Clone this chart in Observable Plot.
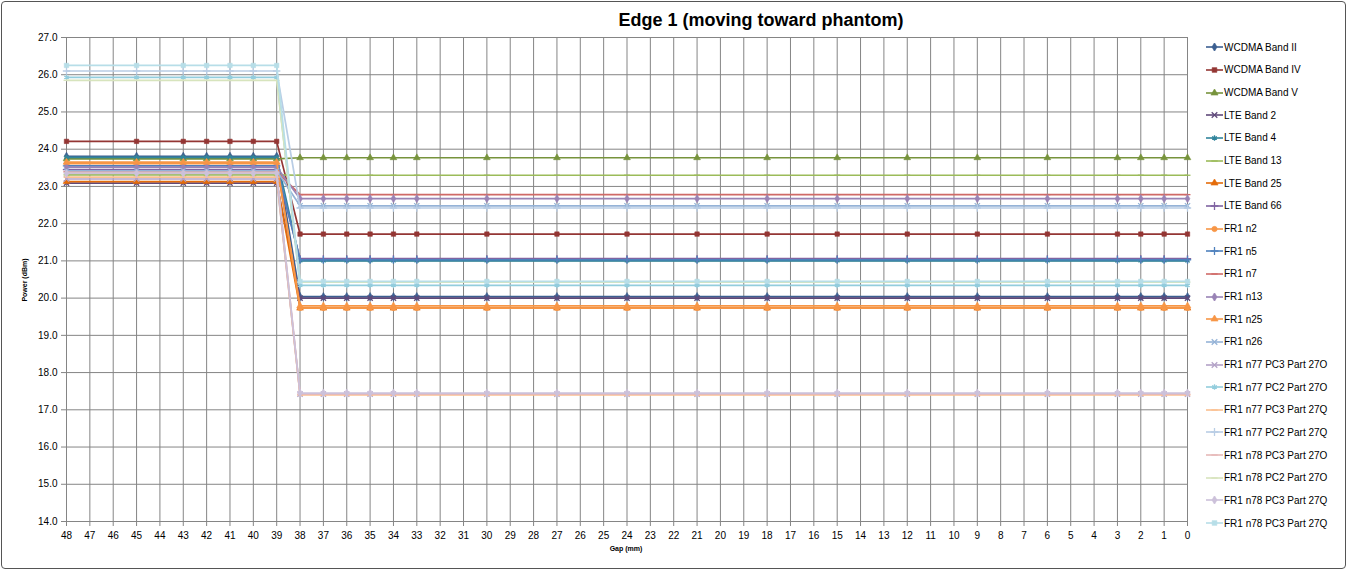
<!DOCTYPE html>
<html>
<head>
<meta charset="utf-8">
<script src="https://cdn.jsdelivr.net/npm/d3@7"></script>
<script src="https://cdn.jsdelivr.net/npm/@observablehq/plot@0.6"></script>
<style>
  html, body { margin: 0; padding: 0; background: #fff; }
  #frame { position: relative; width: 1348px; height: 572px; overflow: hidden; font-family: "Liberation Sans", Arial, sans-serif; }
  #border { position: absolute; left: 1px; top: 1px; width: 1343px; height: 566px; border: 1.5px solid #555; border-radius: 4px; pointer-events: none; }
  #title { position: absolute; left: 0; width: 1522px; top: 10px; text-align: center; font-size: 18px; font-weight: bold; color: #000; }
  #chart { position: absolute; left: 0; top: 0; }
  #legend { position: absolute; left: 1206px; top: 36px; font-size: 10px; color: #000; }
  .item { height: 22.67px; display: flex; align-items: center; white-space: nowrap; }
  .item svg { margin-right: 1px; }
  .ylab { position: absolute; left: 24px; top: 280px; transform: translate(-50%, -50%) rotate(-90deg); font-size: 7px; font-weight: bold; }
  .xlab { position: absolute; left: 626px; top: 545px; transform: translateX(-50%); font-size: 7px; font-weight: bold; }
</style>
</head>
<body>
<div id="frame">
  <div id="chart"></div>
  <div id="title">Edge 1 (moving toward phantom)</div>
  <div class="ylab">Power (dBm)</div>
  <div class="xlab">Gap (mm)</div>
  <div id="legend"></div>
  <div id="border"></div>
</div>
<script>
// ---- Data ----
const gapsFar = [48, 45, 43, 42, 41, 40, 39];
const gapsNear = [38, 37, 36, 35, 34, 33, 30, 27, 24, 21, 18, 15, 12, 9, 6, 3, 2, 1, 0];
const xTicks = d3.range(48, -1, -1);
const yTicks = d3.range(14, 28, 1);

const seriesNames = [
  "WCDMA Band II", "WCDMA Band IV", "WCDMA Band V", "LTE Band 2", "LTE Band 4",
  "LTE Band 13", "LTE Band 25", "LTE Band 66", "FR1 n2", "FR1 n5", "FR1 n7",
  "FR1 n13", "FR1 n25", "FR1 n26", "FR1 n77 PC3 Part 27O", "FR1 n77 PC2 Part 27O",
  "FR1 n77 PC3 Part 27Q", "FR1 n77 PC2 Part 27Q", "FR1 n78 PC3 Part 27O",
  "FR1 n78 PC2 Part 27O", "FR1 n78 PC3 Part 27Q", "FR1 n78 PC3 Part 27Q"
];
// power at gaps 48..39 (far) and 38..0 (near)
const powerFar = [
  23.81, 24.21, 23.74, 23.09, 23.78,
  23.31, 23.13, 23.45, 23.61, 23.55, 23.40,
  23.52, 23.65, 23.42, 23.20, 25.93,
  23.25, 26.10, 23.38,
  25.85, 23.35, 26.25
];
const powerNear = [
  20.04, 21.72, 23.77, 20.00, 21.00,
  23.30, 19.73, 21.06, 19.73, 21.03, 22.78,
  22.67, 19.79, 22.48, 17.42, 20.34,
  17.40, 22.42, 17.42,
  20.43, 17.45, 20.45
];
const seriesColors = [
  "#3C5F91", "#943634", "#77933C", "#5F497A", "#31859C",
  "#9BBB59", "#E46C0A", "#8064A2", "#F79646", "#4F81BD", "#D06A67",
  "#9983B5", "#F79646", "#95B3D7", "#B3A2C7", "#93CDDD",
  "#FAC090", "#B9CDE5", "#E6B9B8",
  "#D7E4BD", "#CCC1DA", "#B7DEE8"
];
const seriesMarkers = [
  "diamond", "square", "triangle", "times", "asterisk",
  "dash", "triangle", "plus", "circle", "plus", "dash",
  "diamond", "triangle", "times", "times", "asterisk",
  "dash", "plus", "dash",
  "dash", "diamond", "square"
];

// ---- Symbols ----
const dash = { draw(ctx, size) { const w = Math.sqrt(size) * 0.7; ctx.moveTo(-w, 0); ctx.lineTo(w, 0); } };
const symbolMap = {
  diamond: d3.symbolDiamond, square: d3.symbolSquare, triangle: d3.symbolTriangle,
  times: d3.symbolTimes, asterisk: d3.symbolAsterisk, plus: d3.symbolPlus,
  circle: d3.symbolCircle, dash: dash
};
const filled = new Set(["diamond", "square", "triangle", "circle"]);

const rows = [];
seriesNames.forEach((name, i) => {
  gapsFar.forEach(g => rows.push({ i, name, gap: g, power: powerFar[i] }));
  gapsNear.forEach(g => rows.push({ i, name, gap: g, power: powerNear[i] }));
});

const marks = [
  Plot.gridX(xTicks, { stroke: "#858585", strokeOpacity: 1, strokeWidth: 1 }),
  Plot.gridY(yTicks, { stroke: "#858585", strokeOpacity: 1, strokeWidth: 1 }),
  Plot.axisX(xTicks, { tickSize: 5, tickPadding: 5, stroke: "#858585", label: null, fontSize: 10 }),
  Plot.axisY(yTicks, { tickSize: 5, tickPadding: 4, stroke: "#858585", tickFormat: d => d.toFixed(1), label: null, fontSize: 10 }),
  Plot.ruleY([14], { stroke: "#858585" }),
  Plot.ruleX([48], { stroke: "#858585" })
];
seriesNames.forEach((name, i) => {
  const d = rows.filter(r => r.i === i);
  marks.push(Plot.line(d, { x: "gap", y: "power", stroke: seriesColors[i], strokeWidth: 1.7 }));
  const m = seriesMarkers[i];
  marks.push(Plot.dot(d, {
    x: "gap", y: "power",
    symbol: symbolMap[m],
    r: m === "dash" ? 2.4 : 2.5,
    fill: filled.has(m) ? seriesColors[i] : "none",
    stroke: seriesColors[i],
    strokeWidth: filled.has(m) ? 0.6 : 1.3
  }));
});

const chart = Plot.plot({
  width: 1348, height: 572,
  marginLeft: 66, marginRight: 161, marginTop: 37, marginBottom: 51,
  x: { type: "linear", domain: [48, 0] },
  y: { type: "linear", domain: [14, 27] },
  style: { fontFamily: "'Liberation Sans', Arial, sans-serif", fontSize: "10px", color: "#000", background: "transparent" },
  marks
});
document.getElementById("chart").appendChild(chart);

// ---- Legend ----
const legend = d3.select("#legend");
seriesNames.forEach((name, i) => {
  const item = legend.append("div").attr("class", "item");
  const svg = item.append("svg").attr("width", 17).attr("height", 8);
  svg.append("line").attr("x1", 0).attr("x2", 17).attr("y1", 4).attr("y2", 4)
    .attr("stroke", seriesColors[i]).attr("stroke-width", 1.6);
  const m = seriesMarkers[i];
  const sym = d3.symbol(symbolMap[m], m === "dash" ? 20 : 22);
  svg.append("path").attr("d", sym()).attr("transform", "translate(8.5,4)")
    .attr("fill", filled.has(m) ? seriesColors[i] : "none")
    .attr("stroke", seriesColors[i]).attr("stroke-width", filled.has(m) ? 0.6 : 1.3);
  item.append("span").text(name);
});
</script>
</body>
</html>
